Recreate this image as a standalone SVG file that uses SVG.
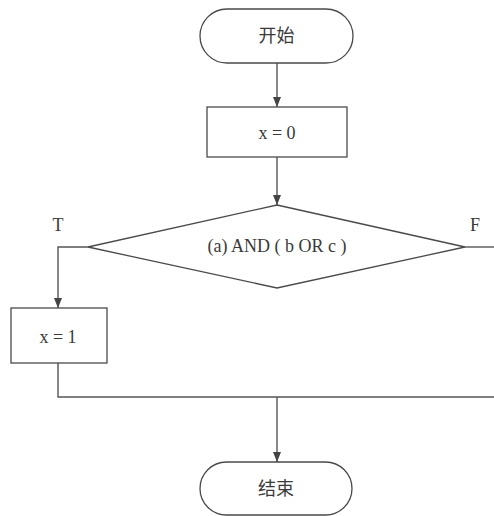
<svg xmlns="http://www.w3.org/2000/svg" width="494" height="516" viewBox="0 0 494 516">
<style>
.shape{fill:#fff;stroke:#4a4a4a;stroke-width:1.3}
.conn{fill:none;stroke:#555;stroke-width:1.4}
.t{font-family:"Liberation Serif","Noto Sans CJK SC",serif;font-size:18px;fill:#3a3a3a;text-anchor:middle}
</style>
<defs>
<marker id="arr" markerWidth="10" markerHeight="8" refX="10" refY="4" orient="auto" markerUnits="userSpaceOnUse">
<path d="M0,0 L10,4 L0,8 Z" fill="#444"/>
</marker>
</defs>
<rect width="494" height="516" fill="#fff"/>
<g id="connectors">
<line class="conn" x1="277" y1="63" x2="277" y2="107" marker-end="url(#arr)"/>
<line class="conn" x1="277" y1="157" x2="277" y2="205" marker-end="url(#arr)"/>
<polyline class="conn" points="88,247 58,247 58,308" marker-end="url(#arr)"/>
<line class="conn" x1="465" y1="247" x2="494" y2="247"/>
<polyline class="conn" points="58,363 58,397 494,397"/>
<line class="conn" x1="277" y1="397" x2="277" y2="462" marker-end="url(#arr)"/>
</g>
<g id="start">
<rect class="shape" x="200" y="9" width="153" height="54" rx="27" ry="27"/>
<text class="t" x="276.5" y="42">开始</text>
</g>
<g id="init">
<rect class="shape" x="207" y="107" width="140" height="50"/>
<text class="t" x="277" y="139">x = 0</text>
</g>
<g id="decision">
<polygon class="shape" points="277,205 465,247 277,288 88,247"/>
<text class="t" x="277" y="252">(a) AND ( b OR c )</text>
</g>
<g id="labelT"><text class="t" x="58" y="231">T</text></g>
<g id="labelF"><text class="t" x="475" y="231">F</text></g>
<g id="assign">
<rect class="shape" x="11" y="308" width="96" height="55"/>
<text class="t" x="58" y="343">x = 1</text>
</g>
<g id="end">
<rect class="shape" x="200" y="462" width="152" height="53" rx="26.5" ry="26.5"/>
<text class="t" x="276" y="495">结束</text>
</g>
</svg>
